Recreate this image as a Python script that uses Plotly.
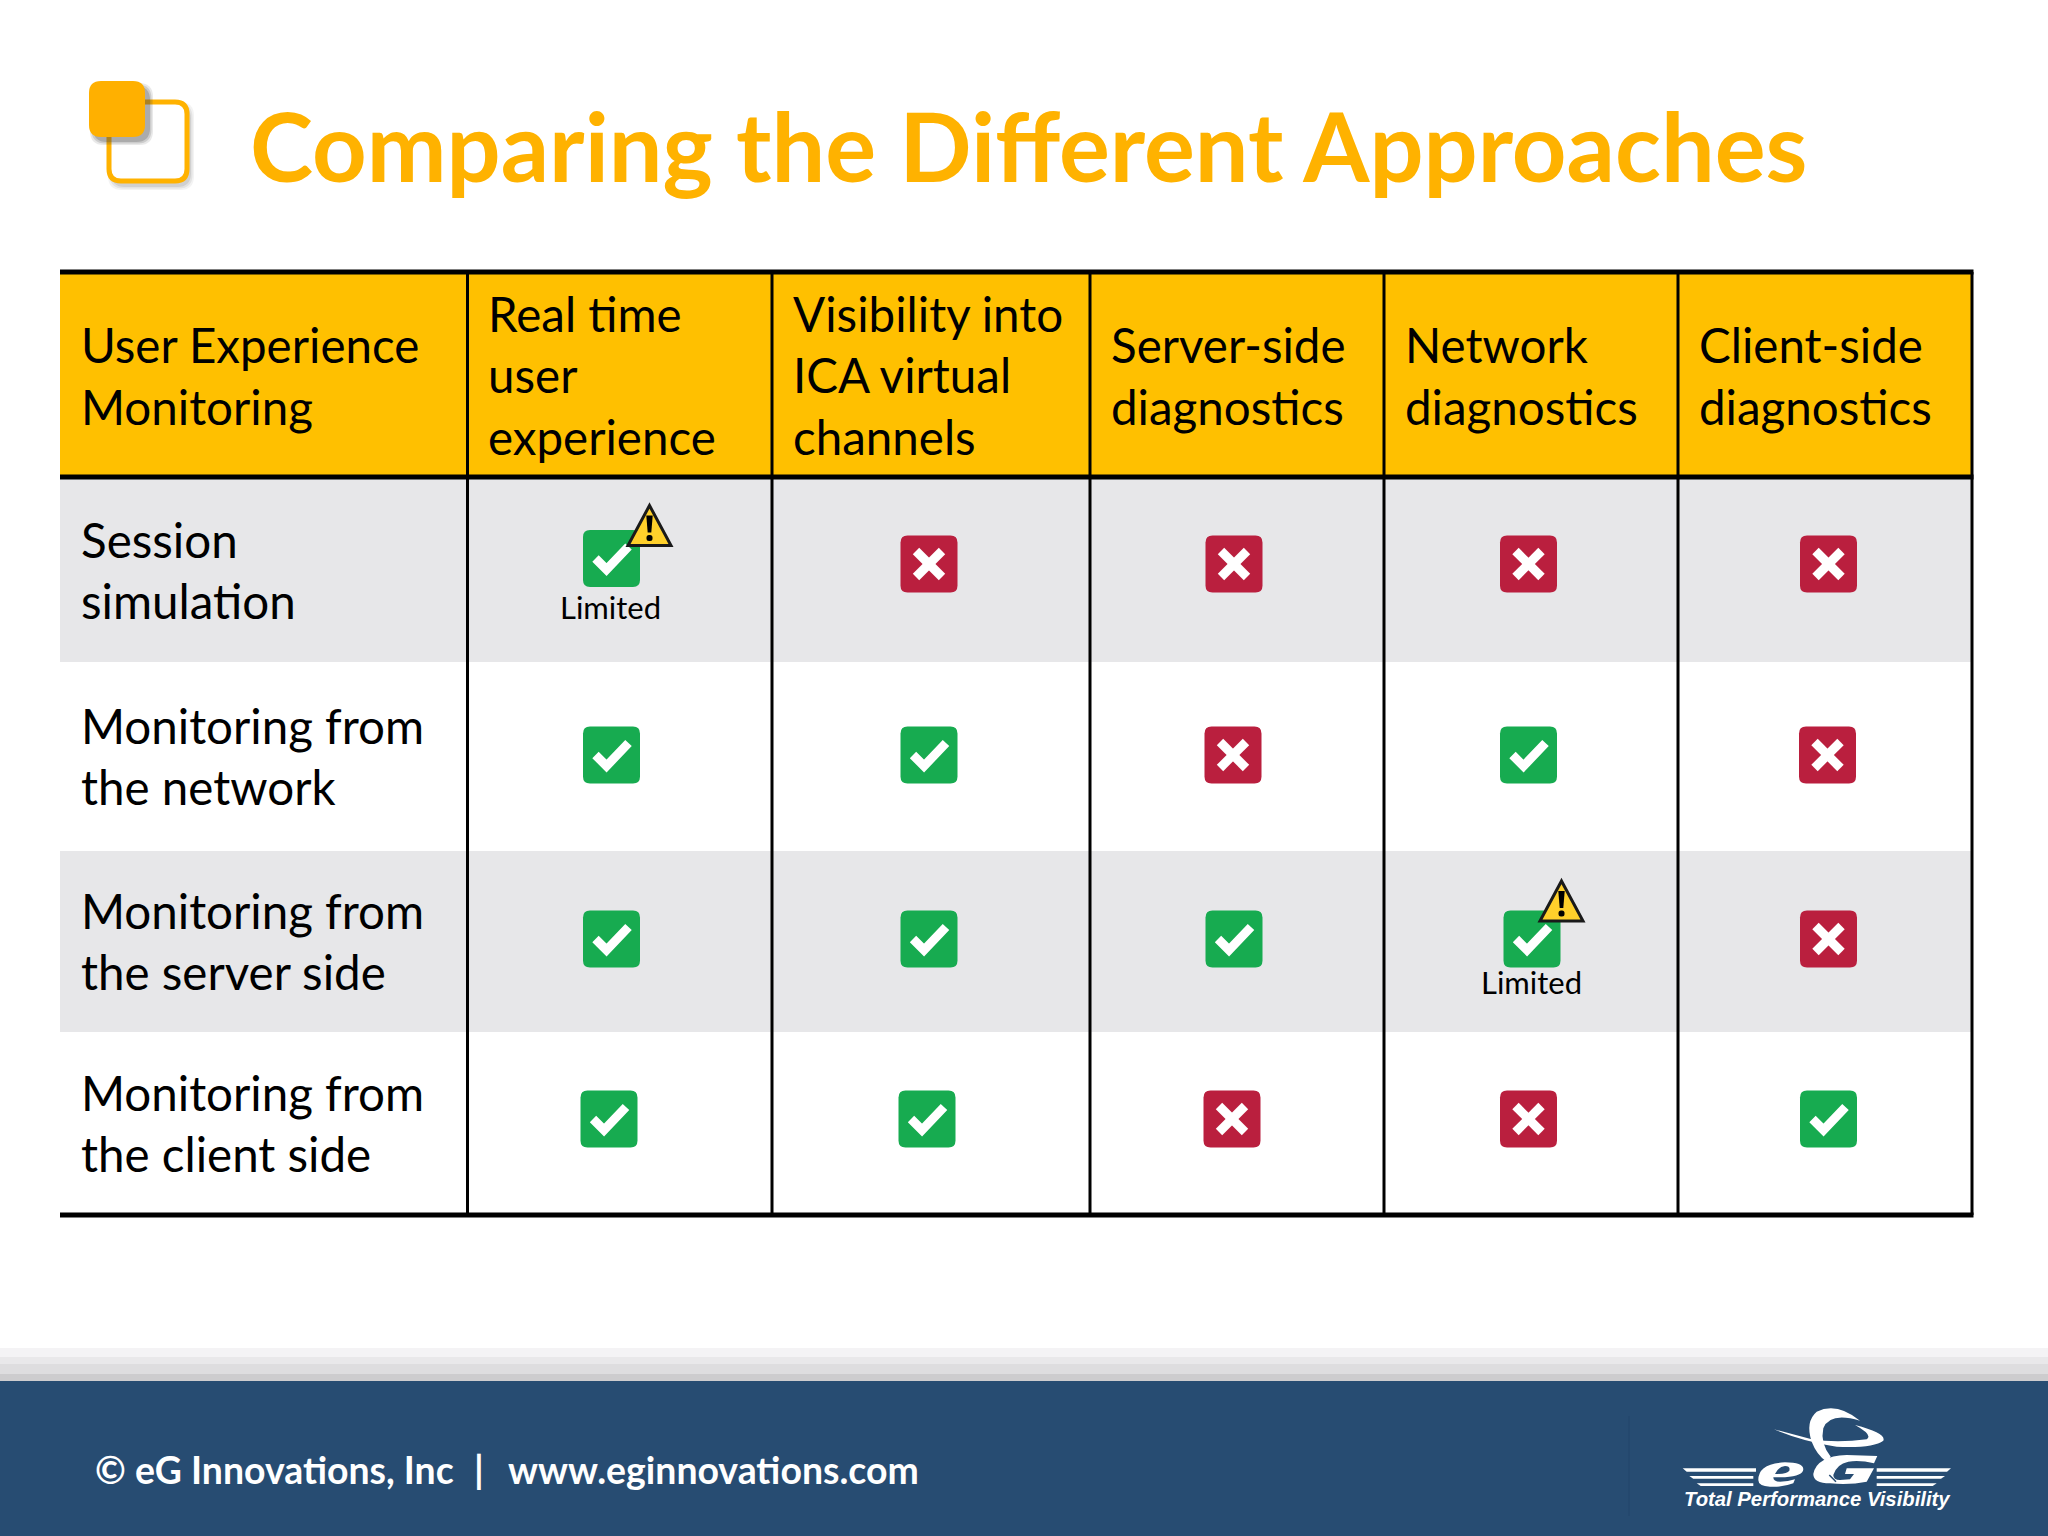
import plotly.graph_objects as go

# ---------- data ----------
title = "Comparing the Different Approaches"
footer_parts = ["© eG Innovations, Inc", "|", "www.eginnovations.com"]
tagline = "Total Performance Visibility"
header_lines = [
    ["User Experience", "Monitoring"],
    ["Real time", "user", "experience"],
    ["Visibility into", "ICA virtual", "channels"],
    ["Server-side", "diagnostics"],
    ["Network", "diagnostics"],
    ["Client-side", "diagnostics"],
]
row_lines = [
    ["Session", "simulation"],
    ["Monitoring from", "the network"],
    ["Monitoring from", "the server side"],
    ["Monitoring from", "the client side"],
]
session_simulation = ["limited", "no", "no", "no", "no"]
from_network = ["yes", "yes", "no", "yes", "no"]
from_server = ["yes", "yes", "yes", "limited", "no"]
from_client = ["yes", "yes", "no", "no", "yes"]
status_rows = [session_simulation, from_network, from_server, from_client]

# ---------- layout geometry (pixels) ----------
W, H = 2048, 1536
col_edges = [60, 467.5, 772, 1090, 1384, 1678, 1972]
row_edges = [272, 477, 662, 851, 1032, 1215]
icon_x = [
    [611.5, 929, 1234, 1528.5, 1828.5],
    [611.5, 929, 1233, 1528.5, 1827.5],
    [611.5, 929, 1234, 1532, 1828.5],
    [609, 927, 1232, 1528.5, 1828.5],
]
icon_y = [564, 755, 939, 1119]
row_text_y = [570, 756, 941, 1123]
limited_shift_y = {0: -5.5, 2: 0}
tri_offset = {0: (38, -33), 2: (29.5, -38)}
label_y = {0: 607, 2: 982}
footer_x = [92.5, 472, 505.5]
ICON = 28.5
FONT = "Lato, Carlito, 'Open Sans', sans-serif"

shapes, annos = [], []


def rect(x0, y0, x1, y1, fill, layer="below", opacity=1):
    shapes.append(dict(type="rect", x0=x0, y0=y0, x1=x1, y1=y1, fillcolor=fill,
                       line=dict(width=0), layer=layer, opacity=opacity))


def path(d, fill="rgba(0,0,0,0)", line=None, width=0, layer="below", opacity=1):
    shapes.append(dict(type="path", path=d, fillcolor=fill, layer=layer, opacity=opacity,
                       line=dict(color=line or "rgba(0,0,0,0)", width=width)))


def rrect(x0, y0, x1, y1, r):
    return (f"M{x0+r},{y0} L{x1-r},{y0} Q{x1},{y0} {x1},{y0+r} L{x1},{y1-r} Q{x1},{y1} {x1-r},{y1} "
            f"L{x0+r},{y1} Q{x0},{y1} {x0},{y1-r} L{x0},{y0+r} Q{x0},{y0} {x0+r},{y0} Z")


def text(x, y, s, size, color="#000000", anchor="left", bold=False, family=FONT, italic=False):
    annos.append(dict(x=x, y=y, text=f"<b>{s}</b>" if bold else s, showarrow=False, xanchor=anchor,
                      yanchor="middle", xref="x", yref="y", align="left",
                      font=dict(size=size, color=color, family=family,
                                style="italic" if italic else "normal")))


# ---------- page furniture ----------
for y0, y1, c in [(1348, 1357, "#F4F3F5"), (1357, 1364, "#E9E8EA"), (1364, 1374, "#DEDDDF"),
                  (1374, 1381, "#CDCCCE")]:
    rect(0, y0, W, y1, c)
rect(0, 1381, W, H, "#274C72")
shapes.append(dict(type="line", x0=1629, x1=1629, y0=1416, y1=1516, layer="below",
                   line=dict(color="#23456A", width=1)))

# title bullet
for grow, alpha in [(8, 0.07), (5, 0.1), (2, 0.14)]:
    path(rrect(112 - grow / 2, 106 - grow / 2, 190 + grow / 2, 186 + grow / 2, 14),
         fill=f"rgba(90,90,90,{alpha})")
path(rrect(109, 102, 187, 181, 12), fill="#FFFFFF", line="#FFB200", width=5)
for grow, alpha in [(6, 0.12), (3, 0.18), (0, 0.25)]:
    path(rrect(93 - grow / 2, 86 - grow / 2, 150 + grow / 2, 142 + grow / 2, 14),
         fill=f"rgba(70,70,70,{alpha})")
path(rrect(89, 81, 145, 137, 12), fill="#FFB000")

# ---------- table ----------
rect(col_edges[0], row_edges[0], col_edges[-1], row_edges[1], "#FFC000")
for r in (1, 3):
    rect(col_edges[0], row_edges[r], col_edges[-1], row_edges[r + 1], "#E7E7E9")

for x in col_edges[1:]:
    shapes.append(dict(type="line", x0=x, x1=x, y0=row_edges[0], y1=row_edges[-1], layer="below",
                       line=dict(color="#000000", width=3)))
for y in (row_edges[0], row_edges[1], row_edges[-1]):
    shapes.append(dict(type="line", x0=col_edges[0], x1=col_edges[-1] + 1.5, y0=y, y1=y, layer="below",
                       line=dict(color="#000000", width=5)))

TEXT_PAD = 18.5
LEAD = 61.5
SIZE = 47.5
for c, lines in enumerate(header_lines):
    ymid = (row_edges[0] + row_edges[1]) / 2 + (0 if len(lines) == 3 else 1)
    for i, s in enumerate(lines):
        text(col_edges[c] + TEXT_PAD, ymid + (i - (len(lines) - 1) / 2) * LEAD, s, SIZE)
for r, lines in enumerate(row_lines):
    for i, s in enumerate(lines):
        text(col_edges[0] + TEXT_PAD, row_text_y[r] + (i - 0.5) * LEAD, s, SIZE)

# ---------- icons ----------
cx, cy = [], []   # check glyph polylines
xx, xy = [], []   # cross glyph polylines
for r, row in enumerate(status_rows):
    for c, st in enumerate(row):
        x, y = icon_x[r][c], icon_y[r]
        if st == "limited":
            y += limited_shift_y[r]
        fill = "#BA1F3E" if st == "no" else "#17AB50"
        path(rrect(x - ICON, y - ICON, x + ICON, y + ICON, 7), fill=fill)
        if st == "no":
            xx += [x - 13, x + 13, None, x - 13, x + 13, None]
            xy += [y - 13, y + 13, None, y + 13, y - 13, None]
        else:
            cx += [x - 16, x - 5, x + 17, None]
            cy += [y, y + 11, y - 12, None]

fig = go.Figure()
fig.add_trace(go.Scatter(x=cx, y=cy, mode="lines", line=dict(color="#FFFFFF", width=9), hoverinfo="skip",
                         name="Supported"))
fig.add_trace(go.Scatter(x=xx, y=xy, mode="lines", line=dict(color="#FFFFFF", width=9), hoverinfo="skip",
                         name="Not supported"))

for r, row in enumerate(status_rows):
    for c, st in enumerate(row):
        if st != "limited":
            continue
        x, y = icon_x[r][c], icon_y[r] + limited_shift_y[r]
        dx, dy = tri_offset[r]
        tx, ty = x + dx, y + dy
        path(f"M{tx},{ty-20} L{tx+21.5},{ty+20} L{tx-21.5},{ty+20} Z", fill="#FFD02B", line="#1A1A1A",
             width=3, layer="above")
        path(f"M{tx-3.2},{ty-10} L{tx+3.2},{ty-10} L{tx+1.8},{ty+7} L{tx-1.8},{ty+7} Z", fill="#000000", layer="above")
        path(rrect(tx - 3, ty + 9.5, tx + 3, ty + 15.5, 2.5), fill="#000000", layer="above")
        text(x - 1, label_y[r], "Limited", 31, anchor="center")

# ---------- title and footer ----------
text(247.5, 145, title, 95.3, color="#FFB200", bold=True)
for fx, part in zip(footer_x, footer_parts):
    text(fx, 1469, part, 37.4, color="#FFFFFF", bold=True)

# ---------- logo (drawn mark plus real tagline) ----------
def v(u, w):
    return f"{1670 + u / 3:.1f},{1400 + w / 3:.1f}"


for (a, b, y0, y1) in [(38, 258, 205, 215), (58, 250, 228, 236), (80, 250, 250, 258)]:
    path(f"M{v(a, y0)} L{v(b, y0)} L{v(b, y1)} L{v(a + 12, y1)} Z", fill="#FFFFFF")
for (a, b, y0, y1) in [(620, 843, 205, 215), (620, 825, 228, 236), (620, 800, 250, 258)]:
    path(f"M{v(a, y0)} L{v(b, y0)} L{v(b - 12, y1)} L{v(a, y1)} Z", fill="#FFFFFF")
path(f"M{v(570, 62)} Q{v(500, 5)} {v(440, 35)} Q{v(405, 65)} {v(425, 125)} Q{v(440, 165)} {v(470, 185)} "
     f"L{v(482, 170)} Q{v(450, 130)} {v(460, 85)} Q{v(480, 35)} {v(570, 62)} Z", fill="#FFFFFF")
path(f"M{v(312, 88)} L{v(425, 118)} Q{v(500, 130)} {v(590, 118)} Q{v(610, 105)} {v(555, 75)} "
     f"Q{v(650, 100)} {v(640, 122)} Q{v(610, 145)} {v(500, 140)} Q{v(400, 125)} {v(312, 88)} Z", fill="#FFFFFF")
# e
path(f"M{v(265, 240)} Q{v(265, 190)} {v(345, 187)} Q{v(400, 187)} {v(400, 208)} Q{v(400, 228)} {v(345, 232)} "
     f"L{v(310, 232)} Q{v(310, 245)} {v(330, 245)} Q{v(355, 245)} {v(375, 238)} L{v(370, 250)} "
     f"Q{v(340, 262)} {v(300, 260)} Q{v(265, 258)} {v(265, 240)} Z", fill="#FFFFFF")
path(f"M{v(315, 222)} Q{v(325, 200)} {v(345, 198)} Q{v(362, 198)} {v(358, 212)} Q{v(352, 222)} {v(315, 222)} Z",
     fill="#274C72")
# G
path(f"M{v(430, 222)} Q{v(440, 168)} {v(530, 165)} L{v(622, 168)} L{v(612, 190)} Q{v(570, 180)} {v(535, 185)} "
     f"Q{v(500, 192)} {v(490, 225)} Q{v(490, 240)} {v(510, 240)} L{v(540, 238)} L{v(552, 222)} L{v(525, 222)} "
     f"L{v(530, 205)} L{v(612, 205)} L{v(590, 245)} Q{v(540, 255)} {v(480, 250)} Q{v(430, 250)} {v(430, 222)} Z",
     fill="#FFFFFF")
path(f"M{v(478, 225)} L{v(498, 245)}", line="#274C72", width=1.5)
text(1670 + 442 / 3, 1400 + 296 / 3, tagline, 20.3, color="#FFFFFF", anchor="center", bold=True,
     family="'Liberation Sans', sans-serif", italic=True)

fig.update_layout(
    width=W, height=H, margin=dict(l=0, r=0, t=0, b=0), showlegend=False,
    paper_bgcolor="#FFFFFF", plot_bgcolor="#FFFFFF", shapes=shapes, annotations=annos,
    xaxis=dict(range=[0, W], visible=False, fixedrange=True),
    yaxis=dict(range=[H, 0], visible=False, fixedrange=True),
)
fig.write_html("out.html", config=dict(displayModeBar=False),
               post_script="document.body.style.margin='0';document.body.style.overflow='hidden';")
